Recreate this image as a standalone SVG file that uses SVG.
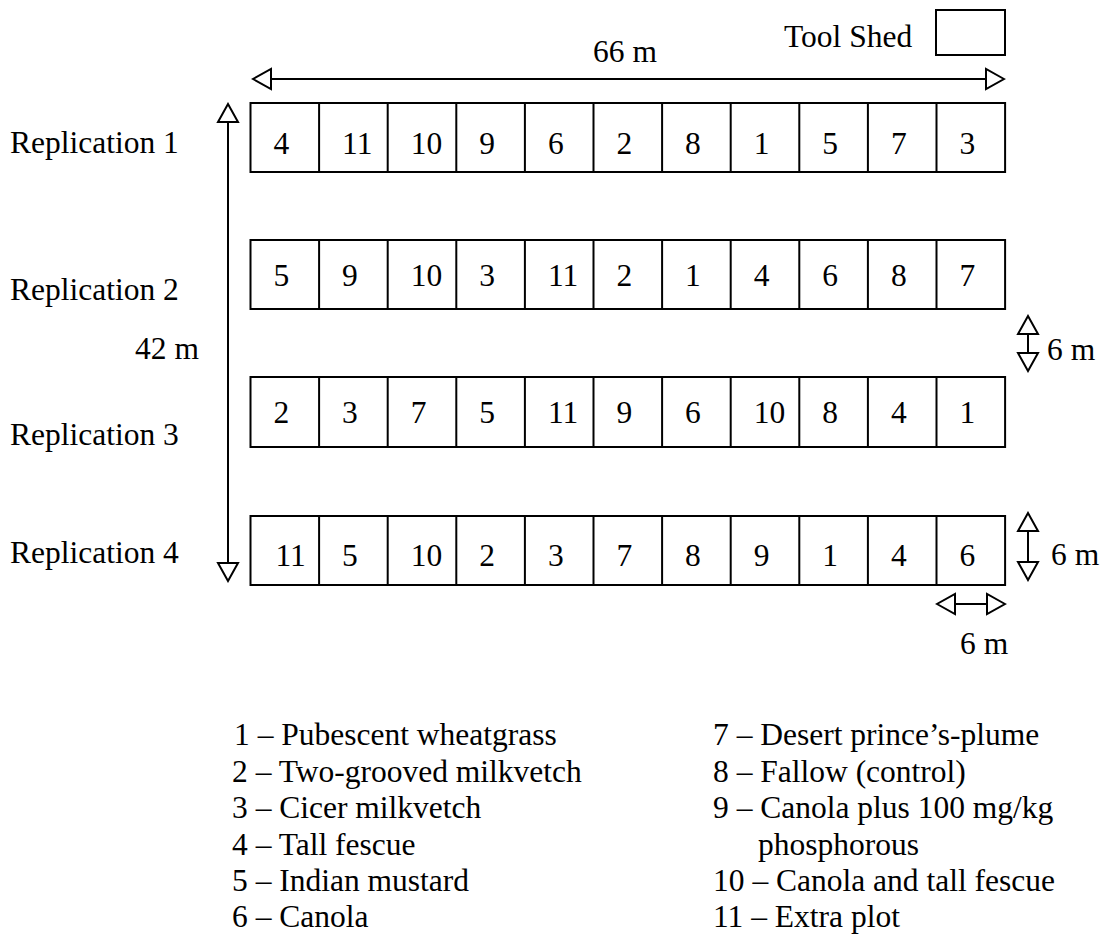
<svg xmlns="http://www.w3.org/2000/svg" width="1104" height="936" viewBox="0 0 1104 936">
  <style>
    text { font-family: "Liberation Serif", "Times New Roman", serif; font-size: 31.5px; fill: #000; }
    .plot { fill: #fff; stroke: #000; stroke-width: 2; }
    .dim { fill: none; stroke: #000; stroke-width: 2; marker-start: url(#open-tri); marker-end: url(#open-tri); }
    .shed { fill: #fff; stroke: #000; stroke-width: 2; }
  </style>
  <defs>
    <!-- open triangular arrowhead used on every dimension line -->
    <marker id="open-tri" markerUnits="userSpaceOnUse" viewBox="-21 -12 23 24" markerWidth="23" markerHeight="24" refX="0" refY="0" orient="auto-start-reverse">
      <path d="M0,0 L-18,-10 L-18,10 Z" fill="#fff" stroke="#000" stroke-width="2" stroke-linejoin="miter"/>
    </marker>
  </defs>

  <rect width="1104" height="936" fill="#fff"/>

  <!-- tool shed -->
  <g id="tool-shed">
    <text x="784" y="47">Tool Shed</text>
    <rect class="shed" x="936" y="10" width="69" height="45"/>
  </g>

  <!-- replication 1 -->
  <g id="replication-1">
    <text x="10" y="153">Replication 1</text>
    <rect class="plot" x="250.5" y="103" width="754.6" height="69"/>
    <path class="plot" d="M319.1,103V172 M387.7,103V172 M456.3,103V172 M524.9,103V172 M593.5,103V172 M662.1,103V172 M730.7,103V172 M799.3,103V172 M867.9,103V172 M936.5,103V172"/>
    <text x="273.5" y="154">4</text>
    <text x="342.1" y="154">11</text>
    <text x="410.7" y="154">10</text>
    <text x="479.3" y="154">9</text>
    <text x="547.9" y="154">6</text>
    <text x="616.5" y="154">2</text>
    <text x="685.1" y="154">8</text>
    <text x="753.7" y="154">1</text>
    <text x="822.3" y="154">5</text>
    <text x="890.9" y="154">7</text>
    <text x="959.5" y="154">3</text>
  </g>

  <!-- replication 2 -->
  <g id="replication-2">
    <text x="10" y="300">Replication 2</text>
    <rect class="plot" x="250.5" y="240" width="754.6" height="69"/>
    <path class="plot" d="M319.1,240V309 M387.7,240V309 M456.3,240V309 M524.9,240V309 M593.5,240V309 M662.1,240V309 M730.7,240V309 M799.3,240V309 M867.9,240V309 M936.5,240V309"/>
    <text x="273.5" y="286">5</text>
    <text x="342.1" y="286">9</text>
    <text x="410.7" y="286">10</text>
    <text x="479.3" y="286">3</text>
    <text x="547.9" y="286">11</text>
    <text x="616.5" y="286">2</text>
    <text x="685.1" y="286">1</text>
    <text x="753.7" y="286">4</text>
    <text x="822.3" y="286">6</text>
    <text x="890.9" y="286">8</text>
    <text x="959.5" y="286">7</text>
  </g>

  <!-- replication 3 -->
  <g id="replication-3">
    <text x="10" y="445">Replication 3</text>
    <rect class="plot" x="250.5" y="377" width="754.6" height="70"/>
    <path class="plot" d="M319.1,377V447 M387.7,377V447 M456.3,377V447 M524.9,377V447 M593.5,377V447 M662.1,377V447 M730.7,377V447 M799.3,377V447 M867.9,377V447 M936.5,377V447"/>
    <text x="273.5" y="423">2</text>
    <text x="342.1" y="423">3</text>
    <text x="410.7" y="423">7</text>
    <text x="479.3" y="423">5</text>
    <text x="547.9" y="423">11</text>
    <text x="616.5" y="423">9</text>
    <text x="685.1" y="423">6</text>
    <text x="753.7" y="423">10</text>
    <text x="822.3" y="423">8</text>
    <text x="890.9" y="423">4</text>
    <text x="959.5" y="423">1</text>
  </g>

  <!-- replication 4 -->
  <g id="replication-4">
    <text x="10" y="563">Replication 4</text>
    <rect class="plot" x="250.5" y="516" width="754.6" height="69"/>
    <path class="plot" d="M319.1,516V585 M387.7,516V585 M456.3,516V585 M524.9,516V585 M593.5,516V585 M662.1,516V585 M730.7,516V585 M799.3,516V585 M867.9,516V585 M936.5,516V585"/>
    <text x="275.5" y="566">11</text>
    <text x="342.1" y="566">5</text>
    <text x="410.7" y="566">10</text>
    <text x="479.3" y="566">2</text>
    <text x="547.9" y="566">3</text>
    <text x="616.5" y="566">7</text>
    <text x="685.1" y="566">8</text>
    <text x="753.7" y="566">9</text>
    <text x="822.3" y="566">1</text>
    <text x="890.9" y="566">4</text>
    <text x="959.5" y="566">6</text>
  </g>

  <!-- dimension lines -->
  <g id="dimensions">
    <line class="dim" x1="253" y1="79" x2="1004" y2="79"/>
    <line class="dim" x1="228" y1="104" x2="228" y2="581"/>
    <line class="dim" x1="1028" y1="316" x2="1028" y2="371"/>
    <line class="dim" x1="1028" y1="513" x2="1028" y2="580"/>
    <line class="dim" x1="937" y1="604" x2="1005" y2="604"/>
  </g>
  <g id="dimension-labels">
    <text x="593" y="62">66 m</text>
    <text x="135" y="359">42 m</text>
    <text x="1047" y="360">6 m</text>
    <text x="1051" y="565">6 m</text>
    <text x="960" y="654">6 m</text>
  </g>

  <!-- treatment key -->
  <g id="legend">
    <text x="234" y="745">1 – Pubescent wheatgrass</text>
    <text x="232" y="781.5">2 – Two-grooved milkvetch</text>
    <text x="232" y="818">3 – Cicer milkvetch</text>
    <text x="232" y="854.5">4 – Tall fescue</text>
    <text x="232" y="891">5 – Indian mustard</text>
    <text x="232" y="927">6 – Canola</text>
    <text x="713" y="745">7 – Desert prince’s-plume</text>
    <text x="713" y="781.5">8 – Fallow (control)</text>
    <text x="713" y="818">9 – Canola plus 100 mg/kg</text>
    <text x="758" y="854.5">phosphorous</text>
    <text x="713" y="891">10 – Canola and tall fescue</text>
    <text x="713" y="927">11 – Extra plot</text>
  </g>
</svg>
